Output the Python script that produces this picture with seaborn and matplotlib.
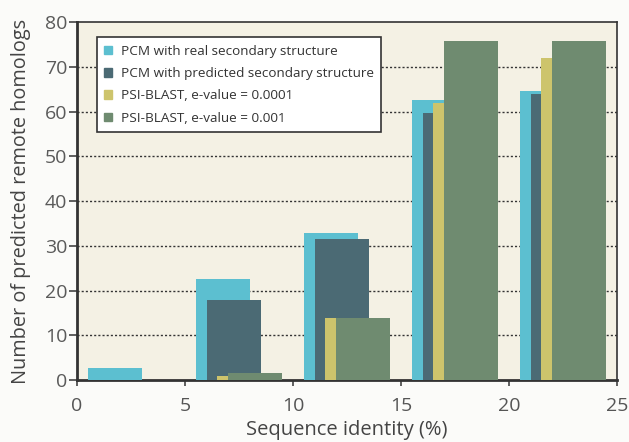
import numpy as np
import pandas as pd
import matplotlib
matplotlib.use("Agg")
import matplotlib.pyplot as plt
import seaborn as sns
from matplotlib.patches import Patch

# ---- data ----
groups = [0, 5, 10, 15, 20]
series_names = [
    "PCM with real secondary structure",
    "PCM with predicted secondary structure",
    "PSI-BLAST, e-value = 0.0001",
    "PSI-BLAST, e-value = 0.001",
]
real_ss = [2.6, 22.5, 32.8, 62.6, 64.6]
pred_ss = [0.0, 17.9, 31.5, 59.7, 63.9]
psi_0001 = [0.0, 1.0, 13.9, 61.9, 71.9]
psi_001 = [0.0, 1.5, 13.8, 75.8, 75.8]
xticks = [0, 5, 10, 15, 20, 25]
yticks = [0, 10, 20, 30, 40, 50, 60, 70, 80]

# ---- style ----
colors = ["#5cbfd0", "#4b6a74", "#cdc46c", "#6f8b70"]
offsets = [1.75, 2.25, 2.75, 3.25]
values = [real_ss, pred_ss, psi_0001, psi_001]

sns.set_theme(style="white")
plt.rcParams["font.family"] = ["Open Sans", "DejaVu Sans"]

fig = plt.figure(figsize=(6.29, 4.42), dpi=100)
fig.patch.set_facecolor("#fbfbf9")
ax = fig.add_axes([0.1224, 0.1403, 0.8586, 0.8097])
ax.set_facecolor("#f4f1e4")

for name, vals, off, col in zip(series_names, values, offsets, colors):
    df = pd.DataFrame({"x": [g + off for g in groups], "y": vals})
    sns.barplot(data=df, x="x", y="y", native_scale=True, width=0.5,
                color=col, saturation=1, errorbar=None, ax=ax,
                edgecolor=col, linewidth=0.0, zorder=3)

ax.set_xlim(0, 25)
ax.set_ylim(0, 80)
ax.set_xticks(xticks)
ax.set_yticks(yticks)
ax.set_xticklabels([str(t) for t in xticks], fontsize=14, color="#555555")
ax.set_yticklabels([str(t) for t in yticks], fontsize=14, color="#5a5a5a")
ax.tick_params(axis="x", which="major", direction="out", length=4.5,
               width=1.2, color="#444444", bottom=True, pad=7.5)
ax.tick_params(axis="y", which="major", direction="out", length=6,
               width=1.2, color="#444444", left=True, pad=1)

for y in yticks[1:-1]:
    ax.axhline(y, color="#333333", linestyle=(0, (1.5, 1.5)), linewidth=1.0, zorder=1)

for s in ax.spines.values():
    s.set_visible(True)
    s.set_color("#333333")
    s.set_linewidth(1.2)
ax.spines["left"].set_linewidth(2.0)
ax.spines["bottom"].set_linewidth(2.0)

ax.set_xlabel("Sequence identity (%)", fontsize=14.5, color="#444444", labelpad=4)
ax.set_ylabel("Number of predicted remote homologs", fontsize=14.3, color="#444444", labelpad=10)

handles = [Patch(facecolor=c, edgecolor=c) for c in colors]
leg = ax.legend(handles, series_names, loc="upper left",
                bbox_to_anchor=(0.037, 0.958), borderaxespad=0,
                fontsize=9.7, frameon=True, fancybox=False,
                handlelength=0.6, handleheight=0.6, handletextpad=0.6,
                labelspacing=0.7, borderpad=0.55)
leg.get_frame().set_edgecolor("#333333")
leg.get_frame().set_linewidth(1.2)
leg.get_frame().set_facecolor("white")
leg.get_frame().set_alpha(1)
leg.set_zorder(10)
for t in leg.get_texts():
    t.set_color("#333333")

fig.savefig("out.png", dpi=100, facecolor=fig.get_facecolor())
